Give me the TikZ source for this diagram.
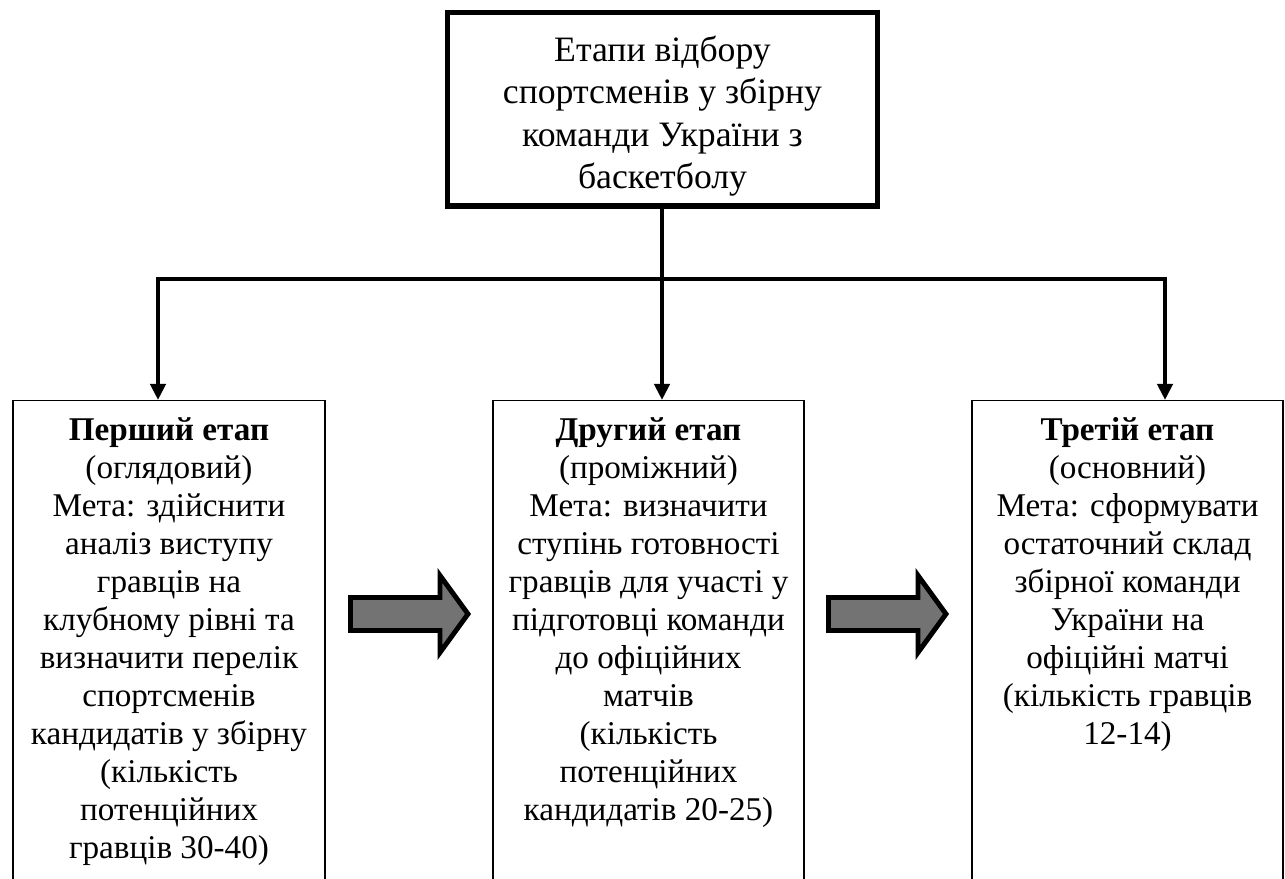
\documentclass[tikz,border=0pt]{standalone}
\usepackage{fontspec}
\setmainfont{Liberation Serif}
\usetikzlibrary{arrows.meta,positioning}
\definecolor{arrowgray}{gray}{0.45}

\tikzset{
  titlebox/.style={draw, line width=3.9pt, minimum width=10.75cm, minimum height=4.84cm},
  titletext/.style={align=center, font=\fontsize{25.4}{30}\selectfont},
  stagebox/.style={draw, line width=1pt, anchor=north, minimum height=13cm},
  stagetext/.style={anchor=north, align=center, inner xsep=0pt, inner ysep=12.5pt,
    font=\fontsize{23.6}{27}\selectfont},
  link/.style={line width=3pt},
  linkarrow/.style={line width=3pt, -{Triangle[width=10.7pt,length=11.4pt]}},
  blockarrow/.style={draw, line width=3.5pt, fill=arrowgray, line join=miter}
}

\begin{document}
\begin{tikzpicture}
    % basics
    \useasboundingbox (0,0) rectangle (32.125,21.975);
    \clip (0,0) rectangle (32.125,21.975);

    % title
    \node[titlebox] (title) at (16.5625,19.244) {};
    \node[titletext] (titletxt) at ([yshift=-0.17cm]title.center)
      {Етапи відбору\\ спортсменів у збірну\\ команди України з\\ баскетболу};

    % stages
    \node[stagebox, minimum width=7.8cm] (box1) at (4.225,11.975) {};
    \node[stagebox, minimum width=7.775cm] (box2) at (16.2125,11.975) {};
    \node[stagebox, minimum width=7.775cm] (box3) at (28.1875,11.975) {};

    \node[stagetext] (txt1) at (box1.north)
      {\textbf{Перший етап}\\ (оглядовий)\\ Мета: здійснити\\ аналіз виступу\\ гравців на\\
       клубному рівні та\\ визначити перелік\\ спортсменів\\ кандидатів у збірну\\
       (кількість\\ потенційних\\ гравців 30-40)};
    \node[stagetext] (txt2) at (box2.north)
      {\textbf{Другий етап}\\ (проміжний)\\ Мета: визначити\\ ступінь готовності\\
       гравців для участі у\\ підготовці команди\\ до офіційних\\ матчів\\
       (кількість\\ потенційних\\ кандидатів 20-25)};
    \node[stagetext] (txt3) at (box3.north)
      {\textbf{Третій етап}\\ (основний)\\ Мета: сформувати\\ остаточний склад\\
       збірної команди\\ України на\\ офіційні матчі\\ (кількість гравців\\ 12-14)};

    % connectors
    \coordinate (split) at (16.55,15.0);
    \coordinate (c1) at (3.95,11.975);
    \coordinate (c3) at (29.125,11.975);
    \draw[link] (title.south -| split) -- (split);
    \draw[linkarrow] (split) -| (c1);
    \draw[linkarrow] (split) -- (split |- box2.north);
    \draw[linkarrow] (split) -| (c3);

    % block arrows
    \foreach \dx in {0,11.95} {
      \draw[blockarrow, xshift=\dx cm] (8.7625,7.0375) -- (11.0,7.0375) -- (11.0,7.5875)
        -- (11.7,6.625) -- (11.0,5.6625) -- (11.0,6.2125) -- (8.7625,6.2125) -- cycle;
    }
\end{tikzpicture}
\end{document}
